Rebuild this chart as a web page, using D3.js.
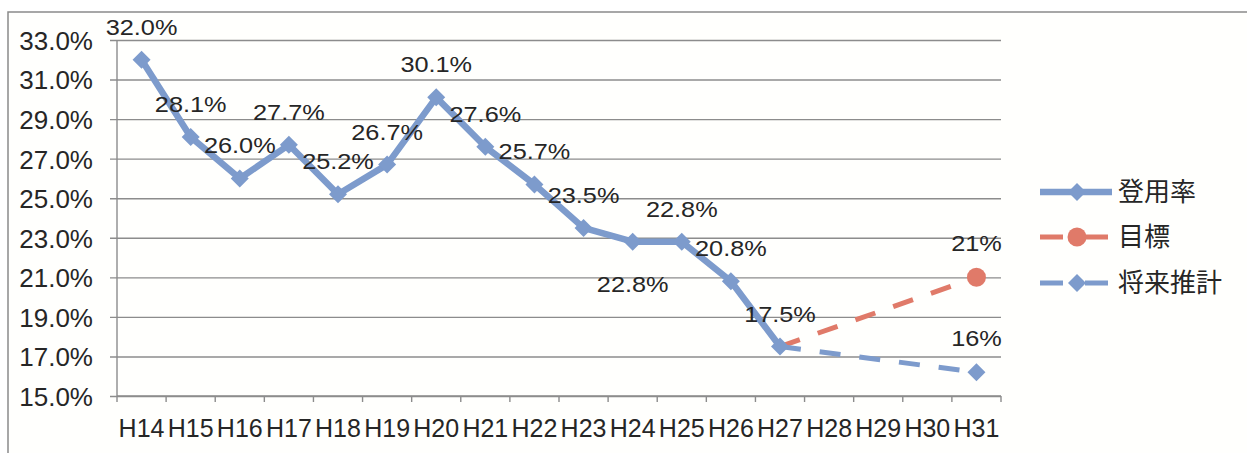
<!DOCTYPE html>
<html>
<head>
<meta charset="utf-8">
<script src="https://cdn.jsdelivr.net/npm/d3@7"></script>
<style>
  body { margin: 0; background: #fff; }
  text { font-family: "Liberation Sans", Arial, sans-serif; fill: #262626; }
  .cjk { font-family: "Noto Sans CJK JP", sans-serif; }
</style>
</head>
<body>
<div id="chart"></div>
<script>
var vWidth = 1247;
var vHeight = 453;

// data
var categories = ["H14", "H15", "H16", "H17", "H18", "H19", "H20", "H21", "H22",
    "H23", "H24", "H25", "H26", "H27", "H28", "H29", "H30", "H31"];
var rateValues = [32.0, 28.1, 26.0, 27.7, 25.2, 26.7, 30.1, 27.6, 25.7, 23.5,
    22.8, 22.8, 20.8, 17.5, null, null, null, null];
var targetValues = [null, null, null, null, null, null, null, null, null, null,
    null, null, null, 17.5, null, null, null, 21.0];
var forecastValues = [null, null, null, null, null, null, null, null, null, null,
    null, null, null, 17.5, null, null, null, 16.2];
var yTicks = [15, 17, 19, 21, 23, 25, 27, 29, 31, 33];
var seriesNames = ["登用率", "目標", "将来推計"];
var belowLabelIdx = 10;

var blue = "#7d9bcc";
var orange = "#e07a69";

var svg = d3.select("#chart")
    .append("svg")
        .attr("width", vWidth)
        .attr("height", vHeight);

// outer frame (cut off on the right and bottom in the scan)
svg.append("rect")
    .attr("x", 8).attr("y", 12)
    .attr("width", 1400).attr("height", 600)
    .style("fill", "#fffffd")
    .style("stroke", "#8a8a8a")
    .style("stroke-width", 1.5);

var x = d3.scaleBand().domain(categories).range([117, 1001]).padding(0);
var y = d3.scaleLinear().domain([15, 33]).range([396, 40]);
var cx = function (i) { return x(categories[i]) + x.bandwidth() / 2; };

// gridlines + y axis
var yAxis = d3.axisLeft(y)
    .tickValues(yTicks)
    .tickSize(-(1001 - 110) + 7)
    .tickPadding(24)
    .tickFormat(function (d) { return d3.format(".1f")(d) + "%"; });

var gy = svg.append("g")
    .attr("transform", "translate(117,0)")
    .call(yAxis);
gy.select(".domain").remove();
gy.selectAll(".tick line")
    .attr("x1", -7)
    .style("stroke", "#8c8c8c")
    .style("stroke-width", 1.4);
gy.selectAll(".tick text")
    .style("font-size", "26px")
    .attr("dy", "0.36em");

svg.append("line")
    .attr("x1", 117).attr("x2", 117)
    .attr("y1", 40).attr("y2", 396)
    .style("stroke", "#8c8c8c")
    .style("stroke-width", 1.4);

// x axis, ticks on band edges
var gx = svg.append("g")
    .attr("transform", "translate(0,396)")
    .call(d3.axisBottom(x).tickSize(0).tickPadding(28));
gx.select(".domain")
    .attr("d", "M117,0H1001")
    .style("stroke", "#8c8c8c")
    .style("stroke-width", 1.4);
gx.selectAll(".tick text").style("font-size", "25px").attr("dy", "0.5em");
gx.selectAll(".edge")
    .data(d3.range(categories.length + 1))
    .enter().append("line")
        .attr("x1", function (i) { return 117 + i * x.bandwidth(); })
        .attr("x2", function (i) { return 117 + i * x.bandwidth(); })
        .attr("y1", 0).attr("y2", 6)
        .style("stroke", "#8c8c8c")
        .style("stroke-width", 1.4);

var line = d3.line()
    .x(function (d) { return cx(d.i); })
    .y(function (d) { return y(d.v); });

function points(vals) {
    return vals.map(function (v, i) { return { i: i, v: v }; })
        .filter(function (d) { return d.v != null; });
}

function diamond(g, px, py, color) {
    g.append("path")
        .attr("d", "M0,-9L9,0L0,9L-9,0Z")
        .attr("transform", "translate(" + px + "," + py + ")")
        .style("fill", color);
}

// dashed series first, so the solid line sits on top
svg.append("path")
    .datum(points(targetValues))
    .attr("d", line)
    .style("fill", "none")
    .style("stroke", orange)
    .style("stroke-width", 5)
    .style("stroke-dasharray", "21,19");

svg.append("path")
    .datum(points(forecastValues))
    .attr("d", line)
    .style("fill", "none")
    .style("stroke", blue)
    .style("stroke-width", 5)
    .style("stroke-dasharray", "21,19");

svg.append("circle")
    .attr("cx", cx(17)).attr("cy", y(targetValues[17]))
    .attr("r", 9.5)
    .style("fill", orange);
diamond(svg, cx(17), y(forecastValues[17]), blue);

var ratePts = points(rateValues);
svg.append("path")
    .datum(ratePts)
    .attr("d", line)
    .style("fill", "none")
    .style("stroke", blue)
    .style("stroke-width", 6.5)
    .style("stroke-linejoin", "round");
ratePts.forEach(function (d) { diamond(svg, cx(d.i), y(d.v), blue); });

// data labels (scan is stretched horizontally, hence scale)
function label(px, py, txt) {
    svg.append("text")
        .attr("transform", "translate(" + px + "," + py + ") scale(1.15,1)")
        .attr("text-anchor", "middle")
        .style("font-size", "22px")
        .text(txt);
}
ratePts.forEach(function (d) {
    var off = d.i === belowLabelIdx ? 50 : -25;
    label(cx(d.i), y(d.v) + off, d3.format(".1f")(d.v) + "%");
});
label(cx(17), y(targetValues[17]) - 26, d3.format(".0f")(targetValues[17]) + "%");
label(cx(17), y(forecastValues[17]) - 26, d3.format(".0f")(forecastValues[17]) + "%");

// legend
var legendY = [192, 237, 283];
var lg = svg.append("g");
seriesNames.forEach(function (name, k) {
    var ly = legendY[k];
    var color = k === 1 ? orange : blue;
    lg.append("line")
        .attr("x1", 1040).attr("x2", 1112)
        .attr("y1", ly).attr("y2", ly)
        .style("stroke", color)
        .style("stroke-width", k === 0 ? 6.5 : 5)
        .style("stroke-dasharray", k === 0 ? null : "23,22");
    if (k === 1) {
        lg.append("circle").attr("cx", 1077).attr("cy", ly).attr("r", 9.5).style("fill", color);
    } else {
        diamond(lg, 1077, ly, color);
    }
    lg.append("text")
        .attr("class", "cjk")
        .attr("x", 1118).attr("y", ly)
        .attr("dy", "0.36em")
        .style("font-size", "26px")
        .text(name);
});
</script>
</body>
</html>
